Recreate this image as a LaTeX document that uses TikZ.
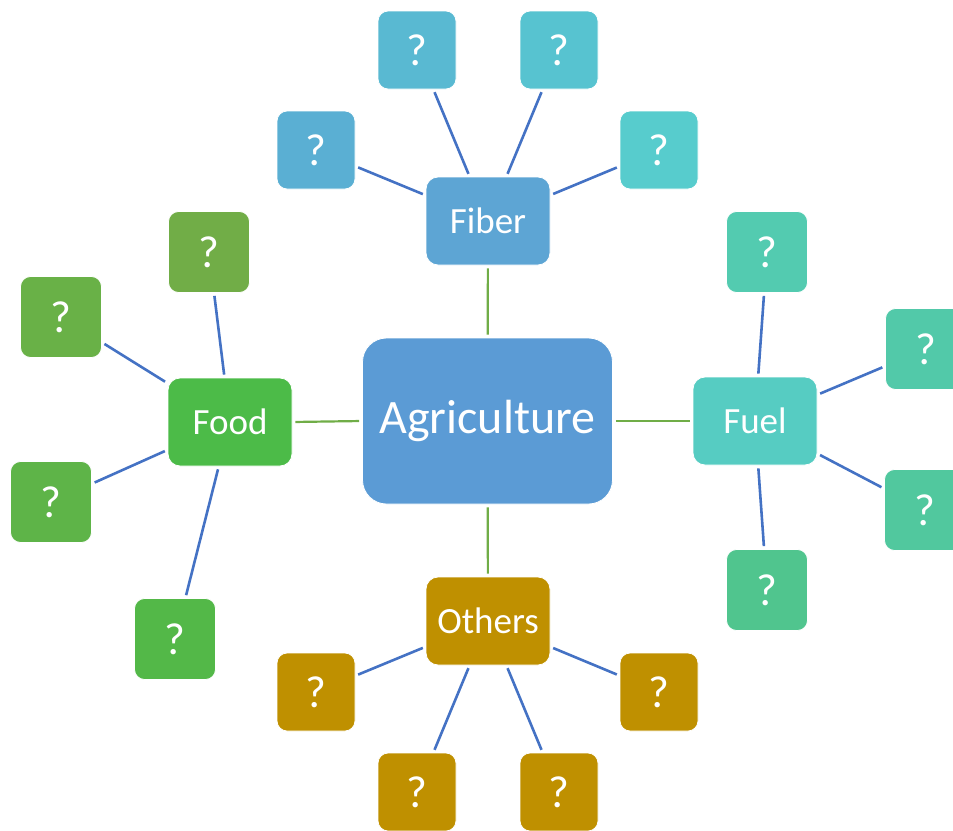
\documentclass[tikz,border=0pt]{standalone}
\usepackage{fontspec}
\setmainfont{Carlito}
% palette
\definecolor{linkblue}{HTML}{4472C4}
\definecolor{stemgreen}{HTML}{70AD47}
\definecolor{agri}{HTML}{5B9BD5}
\definecolor{fiber}{HTML}{5DA5D4}
\definecolor{fiberA}{HTML}{5AAFD3}
\definecolor{fiberB}{HTML}{59B9D2}
\definecolor{fiberC}{HTML}{57C3D0}
\definecolor{fiberD}{HTML}{57CCCD}
\definecolor{food}{HTML}{4CBB48}
\definecolor{foodA}{HTML}{71AD47}
\definecolor{foodB}{HTML}{69B147}
\definecolor{foodC}{HTML}{5EB448}
\definecolor{foodD}{HTML}{53B848}
\definecolor{fuel}{HTML}{56CCC2}
\definecolor{fuelA}{HTML}{53CBB0}
\definecolor{fuelB}{HTML}{52C9A9}
\definecolor{fuelC}{HTML}{51C89E}
\definecolor{fuelD}{HTML}{50C58E}
\definecolor{others}{HTML}{BF9000}
\begin{document}
\begin{tikzpicture}[x=1pt,y=-1pt,
  box/.style={draw=white, line width=0.8pt, text=white, inner sep=0pt, align=center},
  root/.style={box, minimum width=250pt, minimum height=166pt, rounded corners=24pt,
    font=\fontsize{48}{54}\selectfont},
  hub/.style={box, minimum width=124pt, minimum height=88pt, rounded corners=12pt,
    font=\fontsize{37}{42}\selectfont},
  leaf/.style={box, minimum width=78pt, minimum height=78pt, rounded corners=10pt,
    font=\fontsize{45}{50}\selectfont},
  bigleaf/.style={leaf, minimum width=81pt, minimum height=81pt},
  twig/.style={draw=linkblue, line width=2.6pt, shorten >=3pt, shorten <=3pt},
  stem/.style={draw=stemgreen, line width=2.2pt, shorten >=3pt, shorten <=3pt}
]
\useasboundingbox (0,0) rectangle (953,830);

% centre and the four branches
\node[root, fill=agri] (agri) at (487.5,421) {Agriculture};
\node[hub, fill=fiber]  (fiber)  at (488,221) {Fiber};
\node[hub, fill=food]   (food)   at (230,422) {Food};
\node[hub, fill=fuel]   (fuel)   at (755,421) {Fuel};
\node[hub, fill=others] (others) at (488,621) {Others};

% fiber leaves
\node[leaf, fill=fiberA] (fi1) at (316,150) {?};
\node[leaf, fill=fiberB] (fi2) at (417,50)  {?};
\node[leaf, fill=fiberC] (fi3) at (559,50)  {?};
\node[leaf, fill=fiberD] (fi4) at (659,150) {?};

% food leaves
\node[bigleaf, fill=foodA] (fo1) at (209,252) {?};
\node[bigleaf, fill=foodB] (fo2) at (61,317)  {?};
\node[bigleaf, fill=foodC] (fo3) at (51,502)  {?};
\node[bigleaf, fill=foodD] (fo4) at (175,639) {?};

% fuel leaves
\node[bigleaf, fill=fuelA] (fu1) at (767,252) {?};
\node[bigleaf, fill=fuelB] (fu2) at (926,349) {?};
\node[bigleaf, fill=fuelC] (fu3) at (925,510) {?};
\node[bigleaf, fill=fuelD] (fu4) at (767,590) {?};

% other leaves
\node[leaf, fill=others] (ot1) at (316,692) {?};
\node[leaf, fill=others] (ot2) at (417,792) {?};
\node[leaf, fill=others] (ot3) at (559,792) {?};
\node[leaf, fill=others] (ot4) at (659,692) {?};

% stems from the centre
\draw[stem] (agri) -- (fiber);
\draw[stem] (agri.west) -- (food.east);
\draw[stem] (agri.east) -- (fuel.west);
\draw[stem] (agri) -- (others);

% twigs to the leaves
\foreach \l in {fi1,fi2,fi3,fi4} \draw[twig] (fiber) -- (\l);
\foreach \l in {fo1,fo2,fo3,fo4} \draw[twig] (food) -- (\l);
\foreach \l in {fu1,fu2,fu3,fu4} \draw[twig] (fuel) -- (\l);
\foreach \l in {ot1,ot2,ot3,ot4} \draw[twig] (others) -- (\l);
\end{tikzpicture}
\end{document}
